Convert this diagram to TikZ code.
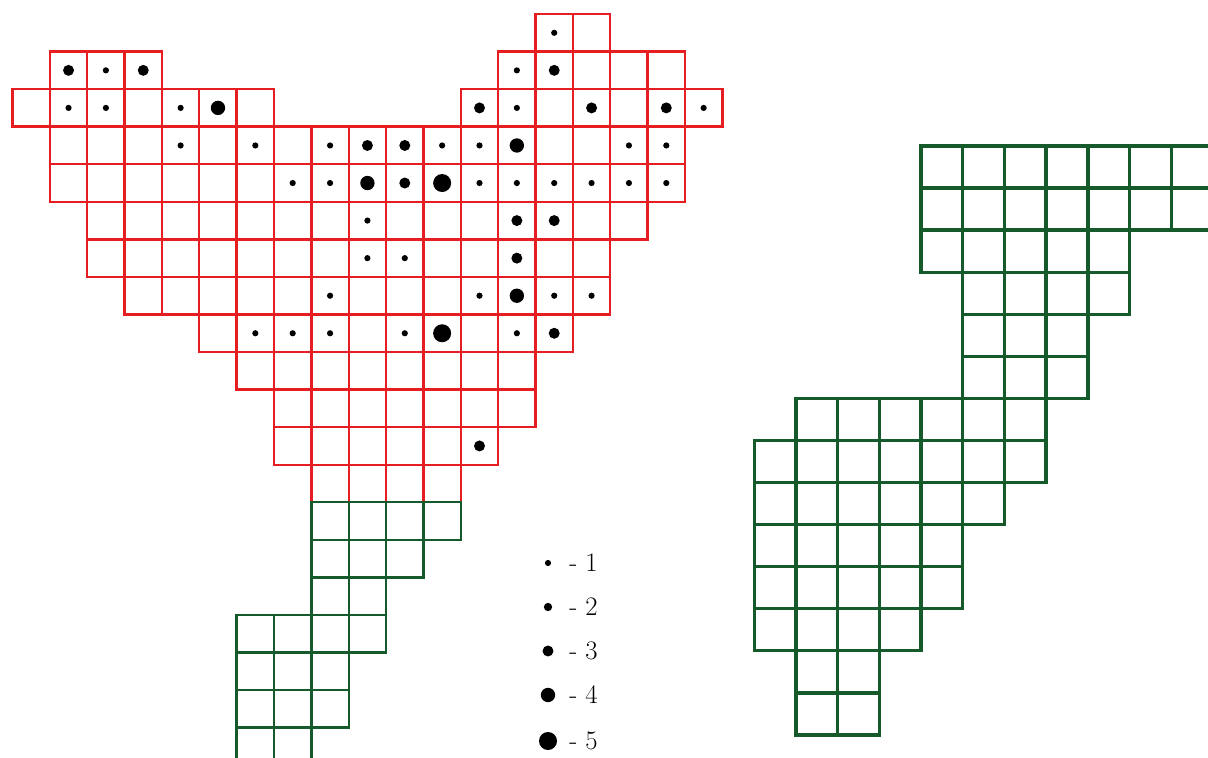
\documentclass[tikz,border=0pt]{standalone}
\definecolor{gridred}{RGB}{230,30,34}
\definecolor{gridgreen}{RGB}{22,90,44}
\newcommand\dotrad[1]{\ifcase#1 0\or 2.2\or 2.95\or 3.9\or 5.1\or 6.4\fi pt}
\tikzset{
  leftgrid/.style={shift={(0.3125cm,-0.35cm)},x=0.93375cm,y=-0.93875cm},
  rightgrid/.style={shift={(18.85cm,-3.65cm)},x=1.0425cm,y=-1.05125cm},
  redcell/.style={draw=gridred,line width=1.7pt},
  greencell/.style={draw=gridgreen,line width=1.7pt},
  darkcell/.style={draw=gridgreen,line width=2.4pt},
  legendtext/.style={anchor=west,inner sep=0pt,font=\fontsize{19}{22}\selectfont}
}
\begin{document}
\begin{tikzpicture}[x=0.025cm,y=-0.025cm]
\useasboundingbox (0,0) rectangle (1208,757);
\clip (0,0) rectangle (1208,757);
% left grid, red part
\begin{scope}[leftgrid]
  \draw[redcell]
    \foreach \r/\a/\b in {0/14/15, 1/1/3, 1/13/17, 2/0/6, 2/12/18, 3/1/17, 4/1/17,
        5/2/16, 6/2/15, 7/3/15, 8/5/14, 9/6/13, 10/7/13, 11/7/12, 12/8/11}
      {\foreach \c in {\a,...,\b} {(\c,\r) rectangle ++(1,1)}};
  % green tail
  \draw[greencell]
    \foreach \r/\a/\b in {13/8/11, 14/8/10, 15/8/9, 16/6/9, 17/6/8, 18/6/8, 19/6/7}
      {\foreach \c in {\a,...,\b} {(\c,\r) rectangle ++(1,1)}};
  % dots: column/row/size
  \foreach \c/\r/\s in {14/0/1,
      1/1/3, 2/1/1, 3/1/3, 13/1/1, 14/1/3,
      1/2/1, 2/2/1, 4/2/1, 5/2/4, 12/2/3, 13/2/1, 15/2/3, 17/2/3, 18/2/1,
      4/3/1, 6/3/1, 8/3/1, 9/3/3, 10/3/3, 11/3/1, 12/3/1, 13/3/4, 16/3/1, 17/3/1,
      7/4/1, 8/4/1, 9/4/4, 10/4/3, 11/4/5, 12/4/1, 13/4/1, 14/4/1, 15/4/1, 16/4/1, 17/4/1,
      9/5/1, 13/5/3, 14/5/3,
      9/6/1, 10/6/1, 13/6/3,
      8/7/1, 12/7/1, 13/7/4, 14/7/1, 15/7/1,
      6/8/1, 7/8/1, 8/8/1, 10/8/1, 11/8/5, 13/8/1, 14/8/3,
      12/11/3}
  {
    \edef\rad{\dotrad{\s}}
    \fill ({\c+0.5},{\r+0.5}) circle[radius=\rad];
  }
\end{scope}
% right grid
\begin{scope}[rightgrid]
  \draw[darkcell]
    \foreach \r/\a/\b in {0/4/10, 1/4/10, 2/4/8, 3/5/8, 4/5/7, 5/5/7, 6/1/6,
        7/0/6, 8/0/5, 9/0/4, 10/0/4, 11/0/3, 12/1/2, 13/1/2}
      {\foreach \c in {\a,...,\b} {(\c,\r) rectangle ++(1,1)}};
\end{scope}
% legend
\foreach \s/\y/\name in {1/563/legone, 2/607/legtwo, 3/651/legthree, 4/695/legfour, 5/741/legfive}
{
  \edef\rad{\dotrad{\s}}
  \fill (548,\y) circle[radius=\rad];
  \node[legendtext] (\name) at (569,\y) {- \s};
}
\end{tikzpicture}
\end{document}
